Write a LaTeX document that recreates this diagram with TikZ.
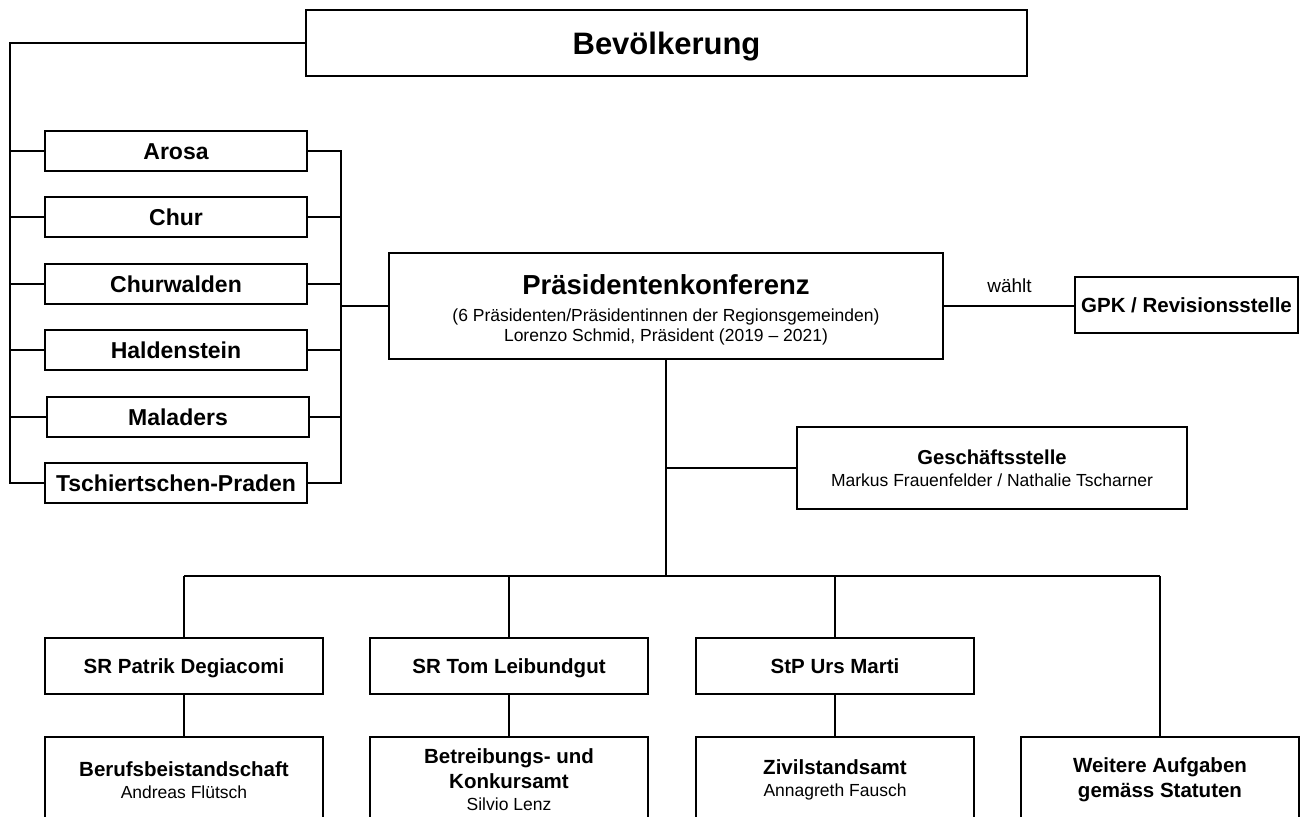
\documentclass[tikz,border=0pt]{standalone}
\usepackage{fontspec}
\setmainfont{Liberation Sans}
\begin{document}
\begin{tikzpicture}[x=1pt,y=-1pt, line width=2pt,
  box/.style={draw, line width=2pt, fill=white, align=center, inner sep=0pt},
  muni/.style={box, minimum width=262pt, minimum height=40pt, text height=16.5pt, text depth=0pt, font=\fontsize{23}{27}\selectfont\bfseries},
  srbox/.style={box, minimum width=278pt, minimum height=56pt, text height=14.7pt, text depth=0pt, font=\fontsize{20.5}{24}\selectfont\bfseries},
  amt/.style={box, minimum width=278pt, minimum height=86pt, font=\fontsize{17.5}{22}\selectfont}
]
\useasboundingbox (0,0) rectangle (1308,816);

% top
\node[box, minimum width=721pt, minimum height=66pt, text height=22.2pt, text depth=0pt, font=\fontsize{31}{36}\selectfont\bfseries] (bev) at (666.5,43) {Bevölkerung};

% municipalities
\node[muni] (arosa) at (176,151) {Arosa};
\node[muni] (chur)  at (176,217) {Chur};
\node[muni] (churw) at (176,284) {Churwalden};
\node[muni] (hald)  at (176,350) {Haldenstein};
\node[muni] (mal)   at (178,417) {Maladers};
\node[muni] (tp)    at (176,483) {Tschiertschen-Praden};

\coordinate (lbus) at (10,0);
\coordinate (rbus) at (341,0);

% Präsidentenkonferenz
\node[box, minimum width=554pt, minimum height=106pt, font=\fontsize{17.5}{20}\selectfont] (praes) at (666,306)
  {\rule{0pt}{27pt}{\fontsize{27.5}{30}\selectfont\bfseries Präsidentenkonferenz}\\[7pt]
   (6 Präsidenten/Präsidentinnen der Regionsgemeinden)\\
   Lorenzo Schmid, Präsident (2019 – 2021)};

% GPK
\node[box, minimum width=223pt, minimum height=56pt, text height=14.7pt, text depth=0pt, font=\fontsize{20.5}{24}\selectfont\bfseries] (gpk) at (1186.5,305) {GPK / Revisionsstelle};
\node[font=\fontsize{19}{22}\selectfont, inner sep=0pt, anchor=base] (waehlt) at (1009.5,292) {wählt};

% Geschäftsstelle
\node[box, minimum width=390pt, minimum height=82pt, font=\fontsize{17.5}{22}\selectfont] (gs) at (992,468)
  {{\fontsize{20.2}{24}\selectfont\bfseries Geschäftsstelle}\\ Markus Frauenfelder / Nathalie Tscharner};

% SR boxes
\node[srbox] (sr1) at (184,666) {SR Patrik Degiacomi};
\node[srbox] (sr2) at (509,666) {SR Tom Leibundgut};
\node[srbox] (sr3) at (835,666) {StP Urs Marti};

% bottom boxes
\node[amt] (b1) at (184,780) {{\fontsize{20.5}{25}\selectfont\bfseries Berufsbeistandschaft}\\ Andreas Flütsch};
\node[amt] (b2) at (509,780) {{\fontsize{20.5}{25}\selectfont\bfseries Betreibungs- und}\\[3pt]{\fontsize{20.5}{25}\selectfont\bfseries Konkursamt}\\ Silvio Lenz};
\node[amt] (b3) at (835,780) {{\fontsize{20.5}{25}\selectfont\bfseries Zivilstandsamt}\\ Annagreth Fausch};
\node[amt, font=\fontsize{20.5}{25}\selectfont\bfseries] (weit) at (1160,780) {Weitere Aufgaben\\ gemäss Statuten};

\coordinate (bus) at (666,576);

% connectors: left bracket
\draw (bev.west) -| (lbus |- tp.west) -- (tp.west);
\foreach \n in {arosa,chur,churw,hald,mal} {
  \draw (lbus |- \n.west) -- (\n.west);
}
% right bracket
\draw (arosa.east) -- (rbus |- arosa.east) -- (rbus |- tp.east) -- (tp.east);
\foreach \n in {chur,churw,hald,mal} {
  \draw (\n.east) -- (rbus |- \n.east);
}
\draw (rbus |- praes.west) -- (praes.west);

% GPK
\draw (praes.east) -- (gpk.west |- praes.east);

% trunk
\draw (praes.south) -- (bus);
\draw (praes.south |- gs.west) -- (gs.west);
\draw (sr1.north |- bus) -- (weit.north |- bus);
\draw (sr1.north |- bus) -- (sr1.north);
\draw (sr2.north |- bus) -- (sr2.north);
\draw (sr3.north |- bus) -- (sr3.north);
\draw (weit.north |- bus) -- (weit.north);
\draw (sr1.south) -- (b1.north);
\draw (sr2.south) -- (b2.north);
\draw (sr3.south) -- (b3.north);
\end{tikzpicture}
\end{document}
